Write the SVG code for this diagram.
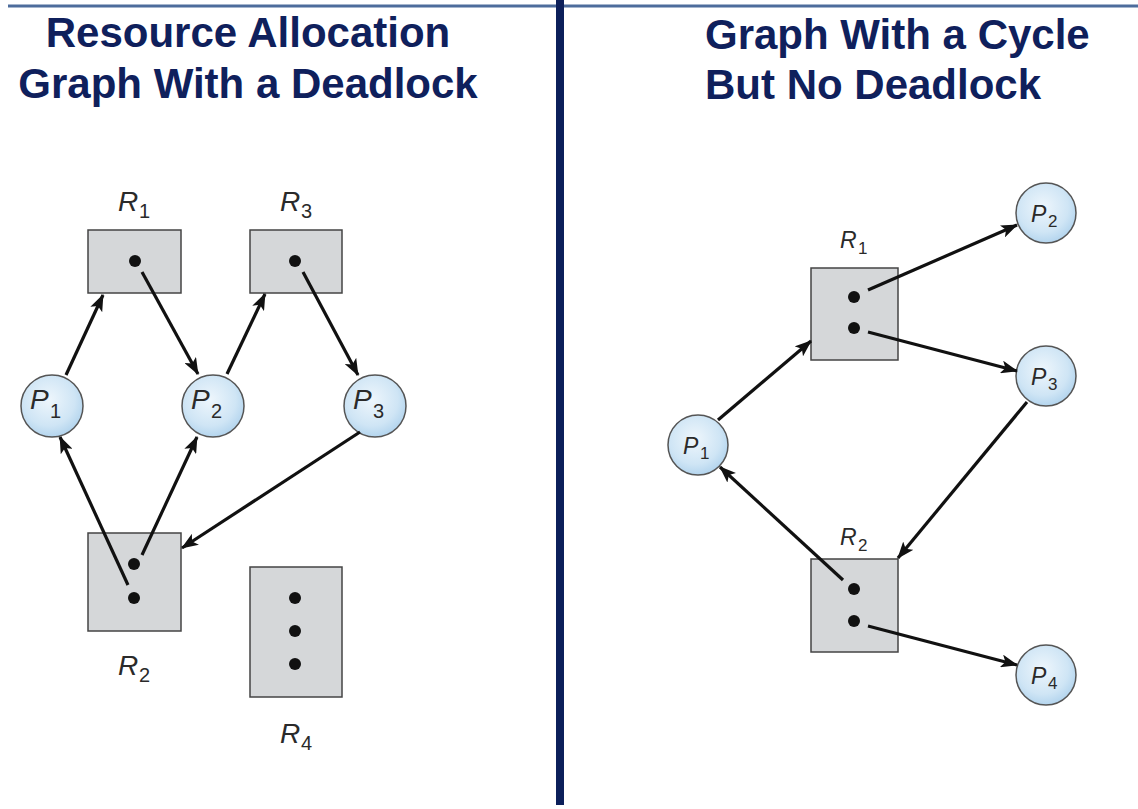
<svg xmlns="http://www.w3.org/2000/svg" width="1138" height="809" viewBox="0 0 1138 809">
<defs>
<radialGradient id="pg" cx="0.45" cy="0.4" r="0.6">
<stop offset="0" stop-color="#eef6fc"/>
<stop offset="0.7" stop-color="#cfe5f5"/>
<stop offset="1" stop-color="#b4d5ee"/>
</radialGradient>
<marker id="ah" markerUnits="userSpaceOnUse" markerWidth="18" markerHeight="13" refX="16" refY="6.5" orient="auto">
<path d="M0,0 L17,6.5 L0,13 L4,6.5 z" fill="#111"/>
</marker>
<style>
.title{font-family:"Liberation Sans",Arial,sans-serif;font-weight:bold;font-size:42px;fill:#0f205c}
.res{fill:#d5d7d9;stroke:#444;stroke-width:1.5}
.proc{fill:url(#pg);stroke:#555;stroke-width:1.5}
.dot{fill:#111}
.lbl{font-family:"Liberation Sans",Arial,sans-serif;fill:#2a2a2a}
.big{font-style:italic;font-size:28px}
.bsub{font-size:20px}
.pl{font-style:italic;font-size:28px}
.sm{font-style:italic;font-size:23px}
.ssub{font-size:17px}
.edge{stroke:#111;stroke-width:3.2;fill:none;marker-end:url(#ah)}
</style>
</defs>
<rect width="1138" height="809" fill="#fff"/>
<line x1="8" y1="6" x2="1138" y2="6" stroke="#4d6c9c" stroke-width="3"/>
<line x1="560" y1="0" x2="560" y2="805" stroke="#0c1f5a" stroke-width="8"/>
<g id="titles">
<text class="title" x="248" y="47" text-anchor="middle">Resource Allocation</text>
<text class="title" x="248" y="98" text-anchor="middle">Graph With a Deadlock</text>
<text class="title" x="705" y="49">Graph With a Cycle</text>
<text class="title" x="705" y="99">But No Deadlock</text>
</g>
<!-- Left diagram -->
<g id="L-R1">
<rect class="res" x="88" y="230" width="93" height="63"/>
<circle class="dot" cx="135" cy="261" r="6"/>
<text class="lbl"><tspan class="big" x="118" y="211">R</tspan><tspan class="bsub" x="139" y="218">1</tspan></text>
</g>
<g id="L-R3">
<rect class="res" x="250" y="230" width="92" height="63"/>
<circle class="dot" cx="295" cy="261" r="6"/>
<text class="lbl"><tspan class="big" x="280" y="211">R</tspan><tspan class="bsub" x="301" y="218">3</tspan></text>
</g>
<g id="L-R2">
<rect class="res" x="88" y="533" width="93" height="98"/>
<circle class="dot" cx="134" cy="564" r="6"/>
<circle class="dot" cx="134" cy="598" r="6"/>
<text class="lbl"><tspan class="big" x="118" y="675">R</tspan><tspan class="bsub" x="139" y="682">2</tspan></text>
</g>
<g id="L-R4">
<rect class="res" x="250" y="567" width="92" height="130"/>
<circle class="dot" cx="295" cy="598" r="6"/>
<circle class="dot" cx="295" cy="631" r="6"/>
<circle class="dot" cx="295" cy="664" r="6"/>
<text class="lbl"><tspan class="big" x="280" y="743">R</tspan><tspan class="bsub" x="301" y="750">4</tspan></text>
</g>
<g id="L-P1">
<circle class="proc" cx="52" cy="406" r="31"/>
<text class="lbl"><tspan class="pl" x="30" y="409">P</tspan><tspan class="bsub" x="50" y="418">1</tspan></text>
</g>
<g id="L-P2">
<circle class="proc" cx="213" cy="406" r="31"/>
<text class="lbl"><tspan class="pl" x="191" y="409">P</tspan><tspan class="bsub" x="211" y="418">2</tspan></text>
</g>
<g id="L-P3">
<circle class="proc" cx="375" cy="406" r="31"/>
<text class="lbl"><tspan class="pl" x="353" y="409">P</tspan><tspan class="bsub" x="373" y="418">3</tspan></text>
</g>
<!-- Right diagram -->
<g id="R-R1">
<rect class="res" x="811" y="268" width="87" height="92"/>
<circle class="dot" cx="854" cy="297" r="6"/>
<circle class="dot" cx="854" cy="328" r="6"/>
<text class="lbl"><tspan class="sm" x="840" y="248">R</tspan><tspan class="ssub" x="858" y="254">1</tspan></text>
</g>
<g id="R-R2">
<rect class="res" x="811" y="559" width="87" height="93"/>
<circle class="dot" cx="854" cy="589" r="6"/>
<circle class="dot" cx="854" cy="621" r="6"/>
<text class="lbl"><tspan class="sm" x="840" y="545">R</tspan><tspan class="ssub" x="858" y="551">2</tspan></text>
</g>
<g id="R-P1">
<circle class="proc" cx="698" cy="445" r="30"/>
<text class="lbl"><tspan class="sm" x="683" y="454">P</tspan><tspan class="ssub" x="700" y="459">1</tspan></text>
</g>
<g id="R-P2">
<circle class="proc" cx="1046" cy="213" r="30"/>
<text class="lbl"><tspan class="sm" x="1031" y="222">P</tspan><tspan class="ssub" x="1048" y="227">2</tspan></text>
</g>
<g id="R-P3">
<circle class="proc" cx="1046" cy="376" r="30"/>
<text class="lbl"><tspan class="sm" x="1031" y="385">P</tspan><tspan class="ssub" x="1048" y="390">3</tspan></text>
</g>
<g id="R-P4">
<circle class="proc" cx="1046" cy="675" r="30"/>
<text class="lbl"><tspan class="sm" x="1031" y="684">P</tspan><tspan class="ssub" x="1048" y="689">4</tspan></text>
</g>
<g id="connectors">
<line class="edge" x1="66" y1="375" x2="103" y2="295"/>
<line class="edge" x1="142" y1="272" x2="198" y2="374"/>
<line class="edge" x1="227" y1="374" x2="265" y2="294"/>
<line class="edge" x1="303" y1="272" x2="358" y2="375"/>
<line class="edge" x1="128" y1="585" x2="60" y2="437"/>
<line class="edge" x1="142" y1="555" x2="197" y2="437"/>
<line class="edge" x1="360" y1="432" x2="182" y2="548"/>
<line class="edge" x1="868" y1="290" x2="1017" y2="225"/>
<line class="edge" x1="868" y1="332" x2="1017" y2="371"/>
<line class="edge" x1="718" y1="420" x2="811" y2="341"/>
<line class="edge" x1="1027" y1="402" x2="898" y2="558"/>
<line class="edge" x1="843" y1="580" x2="720" y2="467"/>
<line class="edge" x1="868" y1="626" x2="1017" y2="665"/>
</g>
</svg>
